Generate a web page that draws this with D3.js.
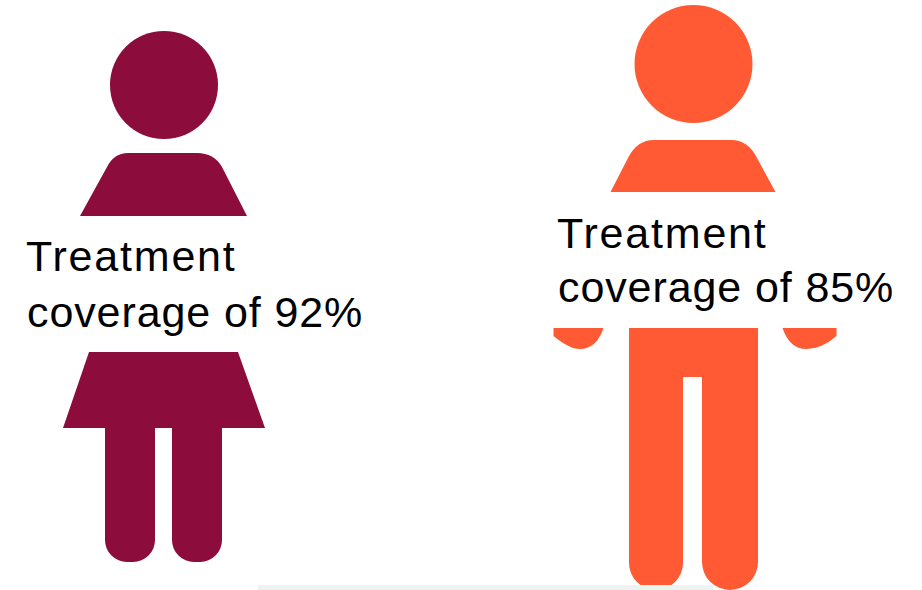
<!DOCTYPE html>
<html><head><meta charset="utf-8">
<script src="https://cdn.jsdelivr.net/npm/d3@7"></script>
<style>html,body{margin:0;padding:0;background:#fff;overflow:hidden}svg{display:block}</style>
</head><body><div id="c"></div>
<script>
const groups = ["Female", "Male"];
const coverage = [92, 85];
const labelLine1 = "Treatment";
const labelLine2 = "coverage of ";
const colors = ["#8C0C3C", "#FF5A33"];

const W = 922, H = 590;
const svg = d3.select("#c").append("svg").attr("width", W).attr("height", H);
svg.append("rect").attr("width", W).attr("height", H).attr("fill", "#fff");

// Pictogram placement: icon units are pixels relative to each figure's centre line / head top
const xF = d3.scaleLinear().domain([0, 1]).range([164, 165]);
const yF = d3.scaleLinear().domain([0, 1]).range([31, 32]);
const xM = d3.scaleLinear().domain([0, 1]).range([693.5, 694.5]);
const yM = d3.scaleLinear().domain([0, 1]).range([5, 6]);

function poly(ctx, x, y, pts) {
  pts.forEach((p, i) => {
    if (p.length === 2) (i ? ctx.lineTo(x(p[0]), y(p[1])) : ctx.moveTo(x(p[0]), y(p[1])));
    else ctx.quadraticCurveTo(x(p[0]), y(p[1]), x(p[2]), y(p[3]));
  });
  ctx.closePath();
}
function leg(ctx, x, y, l, r, t, b, rad) {
  ctx.moveTo(x(l), y(t));
  ctx.lineTo(x(r), y(t));
  ctx.lineTo(x(r), y(b - rad));
  ctx.arcTo(x(r), y(b), x(r - rad), y(b), rad);
  ctx.lineTo(x(l + rad), y(b));
  ctx.arcTo(x(l), y(b), x(l), y(b - rad), rad);
  ctx.closePath();
}

function female(x, y) {
  const c = d3.path();
  poly(c, x, y, [[-84, 185], [-57, 136], [-50, 122, -36, 122], [33, 122], [50, 122, 58, 136], [83, 185]]);
  poly(c, x, y, [[-75, 321], [74, 321], [101, 397], [-101, 397]]);
  leg(c, x, y, -59, -9, 390, 531, 22);
  leg(c, x, y, 8, 58, 390, 531, 22);
  return c.toString();
}
function male(x, y) {
  const c = d3.path();
  poly(c, x, y, [[-83, 187], [-65, 152], [-56, 135, -40, 135], [38, 135], [54, 135, 63, 152], [82, 187]]);
  poly(c, x, y, [[-140, 323], [-90, 323], [-97, 344, -114, 344], [-124, 344, -140, 331]]);
  poly(c, x, y, [[89, 323], [143, 323], [143, 331], [128, 344, 113, 344], [96, 344, 89, 323]]);
  poly(c, x, y, [[-64.5, 323], [64.5, 323], [64.5, 372], [-64.5, 372]]);
  leg(c, x, y, -64.5, -10.5, 370, 585, 27);
  leg(c, x, y, 8.5, 64.5, 370, 585, 28);
  return c.toString();
}

const figures = [
  {g: groups[0], v: coverage[0], col: colors[0], d: female(xF, yF), cx: xF(0), cy: yF(54), r: 54,
   tx: 27, b1: 271, b2: 327},
  {g: groups[1], v: coverage[1], col: colors[1], d: male(xM, yM), cx: xM(0), cy: yM(59), r: 59,
   tx: 558, b1: 248, b2: 302}
];

const fig = svg.selectAll("g.fig").data(figures).join("g").attr("class", "fig");
fig.append("circle").attr("cx", d => d.cx).attr("cy", d => d.cy).attr("r", d => d.r).attr("fill", d => d.col);
fig.append("path").attr("d", d => d.d).attr("fill", d => d.col);

// Pale strip along the lower edge
svg.append("rect").attr("x", 258).attr("y", 585).attr("width", 455).attr("height", 5).attr("fill", "#EDF3F1");

const txt = fig.append("text").attr("font-family", "'Liberation Sans', sans-serif").attr("font-size", 43).attr("fill", "#000");
txt.append("tspan").attr("x", d => d.tx - 1).attr("y", d => d.b1).attr("letter-spacing", 1.8).text(labelLine1);
txt.append("tspan").attr("x", d => d.tx).attr("y", d => d.b2).attr("letter-spacing", 0.9).text(d => labelLine2 + d.v + "%");
</script></body></html>
